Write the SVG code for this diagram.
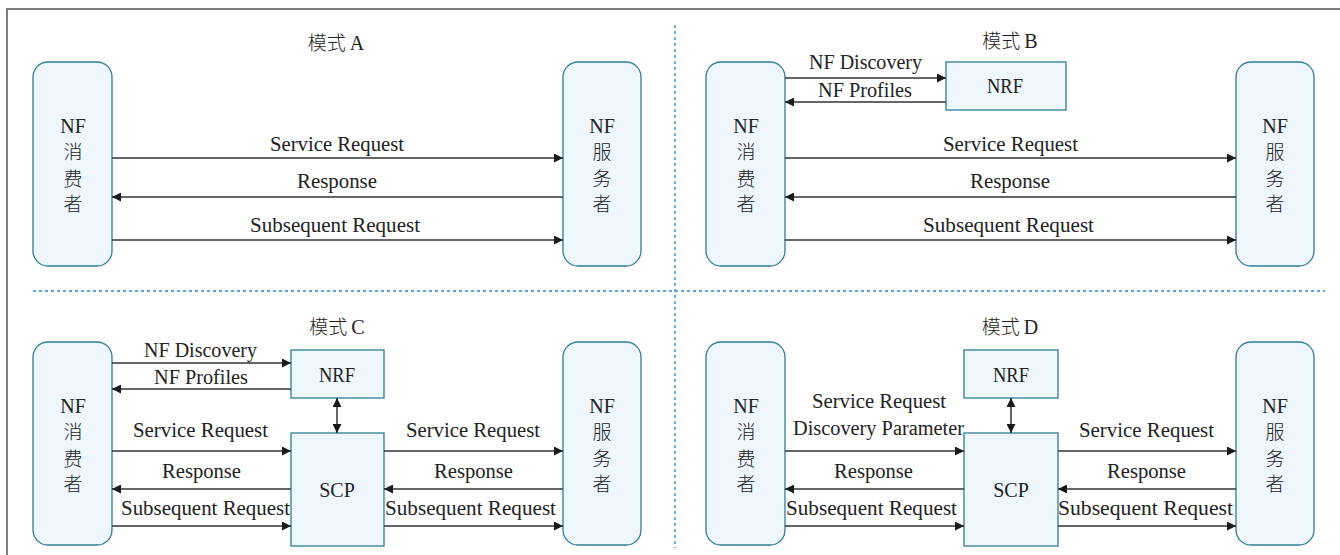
<svg xmlns="http://www.w3.org/2000/svg" width="1340" height="555" viewBox="0 0 1340 555">
  <defs>
    <marker id="arrow" viewBox="0 0 10 10" refX="10" refY="5" markerWidth="10" markerHeight="9" markerUnits="userSpaceOnUse" orient="auto-start-reverse">
      <path d="M0,0 L10,5 L0,10 Z" fill="#1a1a1a"/>
    </marker>
    <style>
      .nf { fill: #eef7fd; stroke: #2f7d98; stroke-width: 1.3; }
      .box { fill: #eef7fd; stroke: #2f7d98; stroke-width: 1.3; }
      .lbl { font-family: 'Liberation Serif', 'Times New Roman', 'DejaVu Serif', serif; font-size: 20.5px; fill: #222; text-anchor: middle; }
      .name { font-family: 'Liberation Serif', 'Times New Roman', 'DejaVu Serif', serif; font-size: 20px; fill: #222; text-anchor: middle; }
      .title { font-family: 'Liberation Serif', 'Times New Roman', 'DejaVu Serif', serif; font-size: 20px; fill: #222; text-anchor: middle; }
      .zh { font-family: 'Noto Sans CJK SC', sans-serif; font-weight: 300; font-size: 19px; }
      .cn { font-family: 'Noto Sans CJK SC', sans-serif; font-size: 19px; font-weight: 300; fill: #222; text-anchor: middle; }
      .flow { stroke: #333; stroke-width: 1.5; fill: none; }
      .sep { stroke: #2a86d6; stroke-width: 1.3; stroke-dasharray: 3 3; fill: none; }
    </style>
  </defs>

  <rect width="1340" height="555" fill="#ffffff"/>
  <!-- outer frame (open to the right and bottom) -->
  <rect x="7" y="9" width="1345" height="560" fill="none" stroke="#555" stroke-width="1.5"/>

  <!-- quadrant separators -->
  <g id="separators">
    <line class="sep" x1="33" y1="291" x2="1325" y2="291"/>
    <line class="sep" x1="675" y1="25" x2="675" y2="548"/>
  </g>

  <!-- titles -->
  <g id="titles">
    <text class="title" x="336" y="50"><tspan class="zh">模式</tspan><tspan dx="4">A</tspan></text>
    <text class="title" x="1010" y="48"><tspan class="zh">模式</tspan><tspan dx="4">B</tspan></text>
    <text class="title" x="337" y="334"><tspan class="zh">模式</tspan><tspan dx="4">C</tspan></text>
    <text class="title" x="1010" y="334"><tspan class="zh">模式</tspan><tspan dx="4">D</tspan></text>
  </g>

  <!-- ===== mode A ===== -->
  <g id="a-consumer">
    <rect class="nf" x="33" y="62" width="79" height="204" rx="15"/>
    <text class="name" x="73" y="133">NF</text>
    <text class="cn" x="73" y="159">消</text>
    <text class="cn" x="73" y="186">费</text>
    <text class="cn" x="73" y="211">者</text>
  </g>
  <g id="a-provider">
    <rect class="nf" x="563" y="62" width="78" height="204" rx="15"/>
    <text class="name" x="602" y="133">NF</text>
    <text class="cn" x="602" y="159">服</text>
    <text class="cn" x="602" y="186">务</text>
    <text class="cn" x="602" y="211">者</text>
  </g>

  <!-- ===== mode B ===== -->
  <g id="b-consumer">
    <rect class="nf" x="706" y="62" width="79" height="204" rx="15"/>
    <text class="name" x="746" y="133">NF</text>
    <text class="cn" x="746" y="159">消</text>
    <text class="cn" x="746" y="186">费</text>
    <text class="cn" x="746" y="211">者</text>
  </g>
  <g id="b-nrf">
    <rect class="box" x="946" y="62" width="120" height="48"/>
    <text class="name" x="1005" y="93" textLength="36" lengthAdjust="spacingAndGlyphs">NRF</text>
  </g>
  <g id="b-provider">
    <rect class="nf" x="1236" y="62" width="78" height="204" rx="15"/>
    <text class="name" x="1275" y="133">NF</text>
    <text class="cn" x="1275" y="159">服</text>
    <text class="cn" x="1275" y="186">务</text>
    <text class="cn" x="1275" y="211">者</text>
  </g>

  <!-- ===== mode C ===== -->
  <g id="c-consumer">
    <rect class="nf" x="33" y="342" width="79" height="203" rx="15"/>
    <text class="name" x="73" y="413">NF</text>
    <text class="cn" x="73" y="439">消</text>
    <text class="cn" x="73" y="466">费</text>
    <text class="cn" x="73" y="491">者</text>
  </g>
  <g id="c-nrf">
    <rect class="box" x="291" y="350" width="93" height="48"/>
    <text class="name" x="337" y="382" textLength="36" lengthAdjust="spacingAndGlyphs">NRF</text>
  </g>
  <g id="c-scp">
    <rect class="box" x="291" y="433" width="93" height="113"/>
    <text class="name" x="337" y="497">SCP</text>
  </g>
  <g id="c-provider">
    <rect class="nf" x="563" y="342" width="78" height="203" rx="15"/>
    <text class="name" x="602" y="413">NF</text>
    <text class="cn" x="602" y="439">服</text>
    <text class="cn" x="602" y="466">务</text>
    <text class="cn" x="602" y="491">者</text>
  </g>

  <!-- ===== mode D ===== -->
  <g id="d-consumer">
    <rect class="nf" x="706" y="342" width="79" height="203" rx="15"/>
    <text class="name" x="746" y="413">NF</text>
    <text class="cn" x="746" y="439">消</text>
    <text class="cn" x="746" y="466">费</text>
    <text class="cn" x="746" y="491">者</text>
  </g>
  <g id="d-nrf">
    <rect class="box" x="964" y="350" width="94" height="48"/>
    <text class="name" x="1011" y="382" textLength="36" lengthAdjust="spacingAndGlyphs">NRF</text>
  </g>
  <g id="d-scp">
    <rect class="box" x="964" y="433" width="94" height="113"/>
    <text class="name" x="1011" y="497">SCP</text>
  </g>
  <g id="d-provider">
    <rect class="nf" x="1236" y="342" width="78" height="203" rx="15"/>
    <text class="name" x="1275" y="413">NF</text>
    <text class="cn" x="1275" y="439">服</text>
    <text class="cn" x="1275" y="466">务</text>
    <text class="cn" x="1275" y="491">者</text>
  </g>

  <!-- connectors -->
  <g id="connectors">
    <!-- A -->
    <line class="flow" x1="112" y1="158" x2="563" y2="158" marker-end="url(#arrow)"/>
    <line class="flow" x1="563" y1="197" x2="112" y2="197" marker-end="url(#arrow)"/>
    <line class="flow" x1="112" y1="240" x2="563" y2="240" marker-end="url(#arrow)"/>
    <!-- B -->
    <line class="flow" x1="785" y1="78" x2="946" y2="78" marker-end="url(#arrow)"/>
    <line class="flow" x1="946" y1="102" x2="785" y2="102" marker-end="url(#arrow)"/>
    <line class="flow" x1="785" y1="158" x2="1236" y2="158" marker-end="url(#arrow)"/>
    <line class="flow" x1="1236" y1="197" x2="785" y2="197" marker-end="url(#arrow)"/>
    <line class="flow" x1="785" y1="240" x2="1236" y2="240" marker-end="url(#arrow)"/>
    <!-- C -->
    <line class="flow" x1="112" y1="363" x2="291" y2="363" marker-end="url(#arrow)"/>
    <line class="flow" x1="291" y1="389" x2="112" y2="389" marker-end="url(#arrow)"/>
    <line class="flow" x1="337" y1="398" x2="337" y2="433" marker-start="url(#arrow)" marker-end="url(#arrow)"/>
    <line class="flow" x1="112" y1="451" x2="291" y2="451" marker-end="url(#arrow)"/>
    <line class="flow" x1="291" y1="489" x2="112" y2="489" marker-end="url(#arrow)"/>
    <line class="flow" x1="112" y1="526" x2="291" y2="526" marker-end="url(#arrow)"/>
    <line class="flow" x1="384" y1="451" x2="563" y2="451" marker-end="url(#arrow)"/>
    <line class="flow" x1="563" y1="489" x2="384" y2="489" marker-end="url(#arrow)"/>
    <line class="flow" x1="384" y1="526" x2="563" y2="526" marker-end="url(#arrow)"/>
    <!-- D -->
    <line class="flow" x1="1011" y1="398" x2="1011" y2="433" marker-start="url(#arrow)" marker-end="url(#arrow)"/>
    <line class="flow" x1="785" y1="451" x2="964" y2="451" marker-end="url(#arrow)"/>
    <line class="flow" x1="964" y1="489" x2="785" y2="489" marker-end="url(#arrow)"/>
    <line class="flow" x1="785" y1="526" x2="964" y2="526" marker-end="url(#arrow)"/>
    <line class="flow" x1="1058" y1="451" x2="1236" y2="451" marker-end="url(#arrow)"/>
    <line class="flow" x1="1236" y1="489" x2="1058" y2="489" marker-end="url(#arrow)"/>
    <line class="flow" x1="1058" y1="526" x2="1236" y2="526" marker-end="url(#arrow)"/>
  </g>

  <!-- connector labels -->
  <g id="labels">
    <!-- A -->
    <text class="lbl" x="337" y="151" textLength="134" lengthAdjust="spacingAndGlyphs">Service Request</text>
    <text class="lbl" x="337" y="188" textLength="80" lengthAdjust="spacingAndGlyphs">Response</text>
    <text class="lbl" x="335" y="232" textLength="170" lengthAdjust="spacingAndGlyphs">Subsequent Request</text>
    <!-- B -->
    <text class="lbl" x="865.5" y="69" textLength="113" lengthAdjust="spacingAndGlyphs">NF Discovery</text>
    <text class="lbl" x="865" y="97" textLength="94" lengthAdjust="spacingAndGlyphs">NF Profiles</text>
    <text class="lbl" x="1010.5" y="151" textLength="135" lengthAdjust="spacingAndGlyphs">Service Request</text>
    <text class="lbl" x="1010" y="188" textLength="80" lengthAdjust="spacingAndGlyphs">Response</text>
    <text class="lbl" x="1008.5" y="232" textLength="171" lengthAdjust="spacingAndGlyphs">Subsequent Request</text>
    <!-- C -->
    <text class="lbl" x="200.5" y="357" textLength="113" lengthAdjust="spacingAndGlyphs">NF Discovery</text>
    <text class="lbl" x="201" y="384" textLength="94" lengthAdjust="spacingAndGlyphs">NF Profiles</text>
    <text class="lbl" x="200.5" y="437" textLength="135" lengthAdjust="spacingAndGlyphs">Service Request</text>
    <text class="lbl" x="201.5" y="478" textLength="79" lengthAdjust="spacingAndGlyphs">Response</text>
    <text class="lbl" x="205.5" y="515" textLength="169" lengthAdjust="spacingAndGlyphs">Subsequent Request</text>
    <text class="lbl" x="473" y="437" textLength="134" lengthAdjust="spacingAndGlyphs">Service Request</text>
    <text class="lbl" x="473.5" y="478" textLength="79" lengthAdjust="spacingAndGlyphs">Response</text>
    <text class="lbl" x="470.5" y="515" textLength="171" lengthAdjust="spacingAndGlyphs">Subsequent Request</text>
    <!-- D -->
    <text class="lbl" x="879" y="408" textLength="134" lengthAdjust="spacingAndGlyphs">Service Request</text>
    <text class="lbl" x="878.5" y="435" textLength="171" lengthAdjust="spacingAndGlyphs">Discovery Parameter</text>
    <text class="lbl" x="873.5" y="478" textLength="79" lengthAdjust="spacingAndGlyphs">Response</text>
    <text class="lbl" x="871.5" y="515" textLength="171" lengthAdjust="spacingAndGlyphs">Subsequent Request</text>
    <text class="lbl" x="1146.5" y="437" textLength="135" lengthAdjust="spacingAndGlyphs">Service Request</text>
    <text class="lbl" x="1146.5" y="478" textLength="79" lengthAdjust="spacingAndGlyphs">Response</text>
    <text class="lbl" x="1145.5" y="515" textLength="175" lengthAdjust="spacingAndGlyphs">Subsequent Request</text>
  </g>
</svg>
